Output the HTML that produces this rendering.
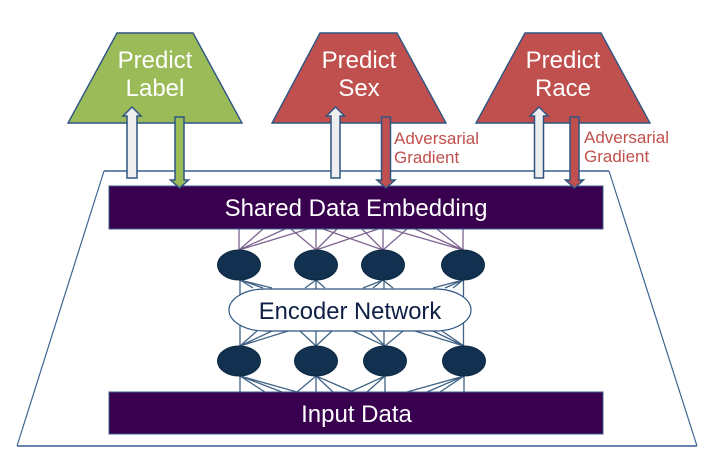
<!DOCTYPE html>
<html><head><meta charset="utf-8"><style>
html,body{margin:0;padding:0;background:#fff;width:724px;height:470px;overflow:hidden}
svg{display:block}
text{font-family:"Liberation Sans",sans-serif}
</style></head><body>
<svg width="724" height="470" viewBox="0 0 724 470" xmlns="http://www.w3.org/2000/svg">
<path d="M104 171 L17 446 M609 171 L697 446" fill="none" stroke="#3f6492" stroke-width="1.2"/>
<path d="M104 171 H609 M17 446 H697" fill="none" stroke="#5475a1" stroke-width="1.7"/>
<path d="M117 33 H193 L242 123 H68 Z" fill="#9bbb59" stroke="#2f5584" stroke-width="1.4"/>
<path d="M320 33 H397 L446 123 H272 Z" fill="#c0504d" stroke="#2f5584" stroke-width="1.4"/>
<path d="M525 33 H601 L650 123 H476 Z" fill="#c0504d" stroke="#2f5584" stroke-width="1.4"/>
<text x="155" y="68" font-size="24" fill="#fff" text-anchor="middle">Predict</text>
<text x="155" y="96" font-size="24" fill="#fff" text-anchor="middle">Label</text>
<text x="359" y="68" font-size="24" fill="#fff" text-anchor="middle">Predict</text>
<text x="359" y="96" font-size="24" fill="#fff" text-anchor="middle">Sex</text>
<text x="563" y="68" font-size="24" fill="#fff" text-anchor="middle">Predict</text>
<text x="563" y="96" font-size="24" fill="#fff" text-anchor="middle">Race</text>
<g fill="#c0504d" font-size="17">
<text x="394" y="144">Adversarial</text><text x="394" y="163">Gradient</text>
<text x="584" y="143">Adversarial</text><text x="584" y="162">Gradient</text>
</g>
<g stroke="#7d6490" stroke-width="1.3" fill="none">
<path d="M239 229V250M316 229V250M383 229V250M463 229V250"/>
<path d="M239 250L263 229M239 250L285 229M239 250L308 229M316 250L291 229M316 250L337 229M316 250L378 229M383 250L362 229M383 250L323 229M383 250L407 229M463 250L437 229M463 250L415 229M463 250L390 229"/>
</g>
<g stroke="#3f6285" stroke-width="1.3" fill="none">
<path d="M240 280V346M316 280V346M384 280V346M463.500 280V346"/>
<path d="M240 280L272 288M240 280L263 288M240 280L253 288M316 280L305 288M316 280L325 288M383 280L363 288M383 280L373 288M383 280L393 288M463 280L433 288M463 280L445 288M463 280L453 288"/>
<path d="M240 346L257 331M240 346L272 331M240 346L288 331M316 346L300 331M316 346L332 331M385 346L353 331M385 346L370 331M385 346L403 331M464 346L415 331M464 346L433 331M464 346L442 331"/>
<path d="M240 376V392M316 376V392M385 376V392M464 376V392M240 376L265 392M240 376L282 392M240 376L297 392M316 376L297 392M316 376L333 392M316 376L353 392M385 376L350 392M385 376L367 392M464 376L407 392M464 376L427 392M464 376L440 392"/>
</g>
<g fill="#12304f" stroke="#0d2740" stroke-width="1">
<ellipse cx="239" cy="265" rx="21.500" ry="15"/><ellipse cx="316" cy="265" rx="21.500" ry="15"/><ellipse cx="383" cy="265" rx="21.500" ry="15"/><ellipse cx="463" cy="265" rx="21.500" ry="15"/>
<ellipse cx="239" cy="361" rx="21.500" ry="15"/><ellipse cx="316" cy="361" rx="21.500" ry="15"/><ellipse cx="385" cy="361" rx="21.500" ry="15"/><ellipse cx="464" cy="361" rx="21.500" ry="15"/>
</g>
<path d="M265 289 H435 C456 289 471 299 471 310 C471 321 456 331 435 331 H265 C244 331 229 321 229 310 C229 299 244 289 265 289 Z" fill="#fff" stroke="#2f5584" stroke-width="1.2"/>
<text x="350" y="319" font-size="23.800" fill="#0f1f45" text-anchor="middle">Encoder Network</text>
<rect x="109" y="186" width="494" height="43" fill="#38004e" stroke="#3d618d" stroke-width="1"/>
<rect x="109" y="392" width="494" height="42" fill="#38004e" stroke="#3d618d" stroke-width="1"/>
<text x="356" y="216" font-size="24" fill="#fff" text-anchor="middle">Shared Data Embedding</text>
<text x="356.500" y="422" font-size="24" fill="#fff" text-anchor="middle">Input Data</text>
<g stroke="#2f5584" stroke-width="1.500">
<path d="M127 178V116H123L132 107L141 116H137V178Z" fill="#eeeeee"/>
<path d="M331 178V116H326.500L335.500 107L344.500 116H340V178Z" fill="#eeeeee"/>
<path d="M534.500 178V116H530L539 107L548 116H543.500V178Z" fill="#eeeeee"/>
<path d="M175 117V180H170.500L179.500 188L188.500 180H184V117Z" fill="#9bbb59"/>
<path d="M381.500 117V180H377L386 188L395 180H390.500V117Z" fill="#c0504d"/>
<path d="M570 117V180H565.500L574.500 188L583.500 180H579V117Z" fill="#c0504d"/>
</g>
</svg>
</body></html>
